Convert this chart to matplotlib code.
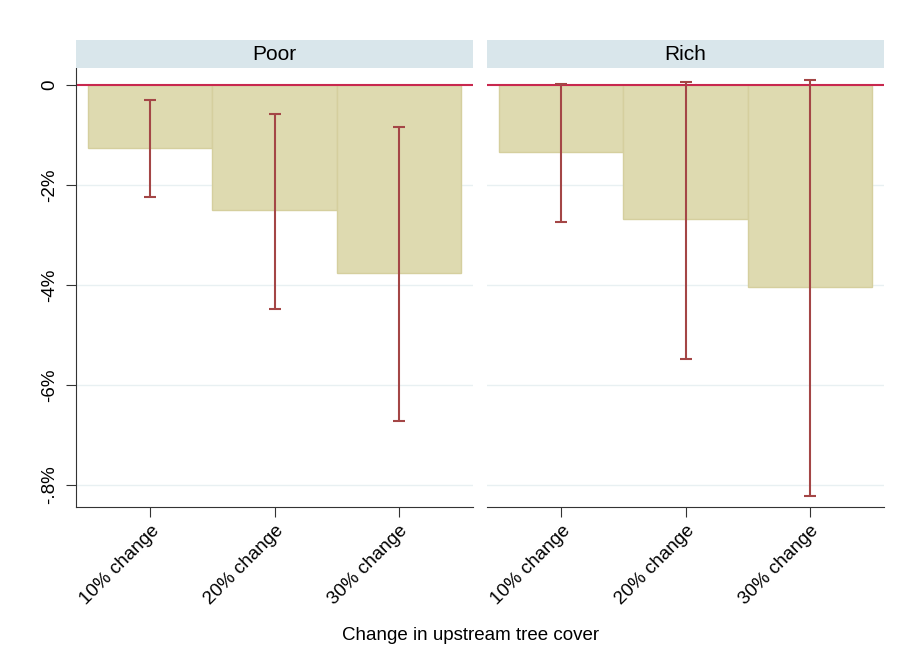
import numpy as np
from matplotlib import pyplot as plt

plt.rcParams['font.family'] = ['Liberation Sans', 'DejaVu Sans']

groups = ["Poor", "Rich"]
categories = ["10% change", "20% change", "30% change"]
estimates = {
    "Poor": [-0.126, -0.250, -0.376],
    "Rich": [-0.134, -0.268, -0.404],
}
ci_low = {
    "Poor": [-0.224, -0.448, -0.672],
    "Rich": [-0.274, -0.548, -0.822],
}
ci_high = {
    "Poor": [-0.030, -0.058, -0.084],
    "Rich": [0.002, 0.006, 0.010],
}
yticks = [0, -0.2, -0.4, -0.6, -0.8]
ytick_labels = ["0", "-2%", "-4%", "-6%", "-.8%"]

W, H = 902, 663
fig = plt.figure(figsize=(W / 100, H / 100), dpi=100)

panel_left = [76, 487]
panel_width = 397
top, bottom = 68, 507

x = np.arange(1, len(categories) + 1)
for i, g in enumerate(groups):
    ax = fig.add_axes([panel_left[i] / W, 1 - bottom / H, panel_width / W, (bottom - top) / H])
    # header strip
    hdr = fig.add_axes([panel_left[i] / W, 1 - 68 / H, panel_width / W, 28 / H])
    hdr.set_facecolor("#d9e6eb")
    hdr.set_xticks([])
    hdr.set_yticks([])
    for s in hdr.spines.values():
        s.set_visible(False)
    hdr.text(0.5, 0.5, g, ha="center", va="center", fontsize=15, transform=hdr.transAxes)

    est = np.array(estimates[g])
    lo = np.array(ci_low[g])
    hi = np.array(ci_high[g])

    for yt in yticks[1:]:
        ax.axhline(yt, color="#e8f0f2", lw=1, zorder=0)
    ax.bar(x, est, width=1.0, color="#dedab0", edgecolor="#d5cf9e", linewidth=1, zorder=1)
    ax.axhline(0, color="#c8284e", lw=1.5, zorder=2)
    ax.errorbar(x, (lo + hi) / 2, yerr=(hi - lo) / 2, fmt="none", ecolor="#a44646",
                elinewidth=1.5, capsize=4.5, capthick=1.5, zorder=3)

    ax.set_xlim(0.4, 3.6)
    ax.set_ylim(-0.844, 0.034)
    ax.set_xticks(x)
    ax.set_xticklabels(categories, rotation=45, ha="right", rotation_mode="anchor", fontsize=13.5)
    ax.spines["top"].set_visible(False)
    ax.spines["right"].set_visible(False)
    ax.spines["bottom"].set_color("#333333")
    ax.tick_params(axis="x", length=7, color="#333333", pad=4)
    if i == 0:
        ax.set_yticks(yticks)
        ax.set_yticklabels(ytick_labels, rotation=90, va="center", fontsize=13.5)
        ax.tick_params(axis="y", length=7, color="#333333", pad=6)
        ax.spines["left"].set_color("#333333")
    else:
        ax.set_yticks([])
        ax.spines["left"].set_visible(False)

fig.text(471 / W, 1 - 636 / H, "Change in upstream tree cover", ha="center", va="center", fontsize=13.5)

fig.savefig("out.png", dpi=100)
